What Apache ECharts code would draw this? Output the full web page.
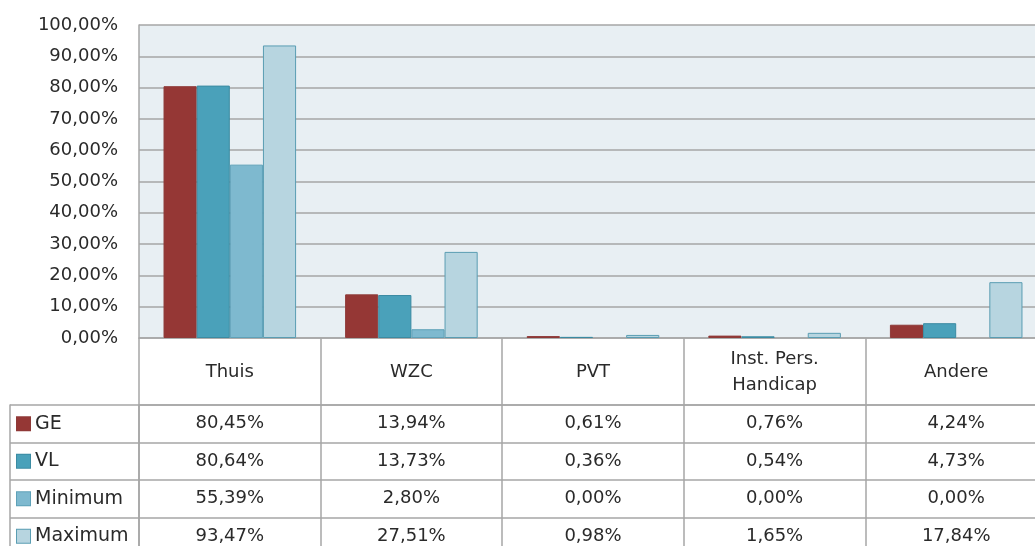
<!DOCTYPE html>
<html>
<head>
<meta charset="utf-8">
<script src="https://cdn.jsdelivr.net/npm/echarts@6/dist/echarts.min.js"></script>
<style>
  html, body { margin: 0; padding: 0; background: #fff; }
  #chart { width: 1035px; height: 546px; }
</style>
</head>
<body>
<div id="chart"></div>
<script>
// data
const categories = ["Thuis", "WZC", "PVT", "Inst. Pers.\nHandicap", "Andere"];
const seriesNames = ["GE", "VL", "Minimum", "Maximum"];
const ge = [80.45, 13.94, 0.61, 0.76, 4.24];
const vl = [80.64, 13.73, 0.36, 0.54, 4.73];
const minimum = [55.39, 2.80, 0.00, 0.00, 0.00];
const maximum = [93.47, 27.51, 0.98, 1.65, 17.84];
const yTicks = [0, 10, 20, 30, 40, 50, 60, 70, 80, 90, 100];

const seriesValues = [ge, vl, minimum, maximum];
const fills = ["#953735", "#4AA1BA", "#7EB9CF", "#B7D5E0"];
const borders = ["#8E3A38", "#3B8BA2", "#5EA1B8", "#5A9DB2"];
const textColor = "#2a2a2a";
const lineColor = "#A6A6A6";
const font = "'DejaVu Sans', sans-serif";

const pct = (v) => v.toFixed(2).replace(".", ",") + "%";

const chart = echarts.init(document.getElementById("chart"));

// bars for the upper plot; zero values get no outline (Excel draws nothing)
const barSeries = seriesNames.map((name, i) => ({
  name: name,
  type: "bar",
  xAxisIndex: 0,
  yAxisIndex: 0,
  data: seriesValues[i].map((v) => v === 0 ? { value: v, itemStyle: { borderWidth: 0 } } : v),
  barGap: "0%",
  barCategoryGap: "27%",
  itemStyle: { color: fills[i], borderColor: borders[i], borderWidth: 1 },
  silent: true,
}));

// data table cells
const tableSeries = seriesNames.map((name, i) => ({
  name: name + "-table",
  type: "scatter",
  xAxisIndex: 1,
  yAxisIndex: 1,
  symbolSize: 1,
  itemStyle: { color: "transparent", opacity: 1 },
  data: categories.map((c, j) => [j, i, seriesValues[i][j]]),
  label: {
    show: true,
    position: "inside",
    color: textColor,
    fontSize: 18,
    fontFamily: font,
    formatter: (p) => pct(p.value[2]),
  },
  silent: true,
}));

const rich = {};
seriesNames.forEach((n, i) => {
  rich["m" + i] = {
    width: 13, height: 13,
    backgroundColor: fills[i],
    borderColor: borders[i],
    borderWidth: 1,
  };
});
rich.t = { fontSize: 19, fontFamily: font, color: textColor, padding: [0, 0, 0, 5] };

chart.setOption({
  animation: false,
  backgroundColor: "#ffffff",
  grid: [
    { left: 139, width: 908, top: 25, bottom: 208, outerBoundsMode: "none",
      show: true, backgroundColor: "#E8EFF3", borderWidth: 0 },
    { left: 139, width: 908, top: 405, height: 150, outerBoundsMode: "none" },
  ],
  xAxis: [
    {
      type: "category",
      gridIndex: 0,
      data: categories,
      axisLine: { show: true, lineStyle: { color: lineColor, width: 1.5 } },
      axisTick: { show: true, length: 67, lineStyle: { color: lineColor, width: 1.5 } },
      axisLabel: {
        color: textColor, fontSize: 18, fontFamily: font,
        margin: 34, verticalAlign: "middle", lineHeight: 26, interval: 0,
      },
    },
    {
      type: "category",
      gridIndex: 1,
      data: categories.map((c, j) => j),
      position: "top",
      axisLine: { show: true, lineStyle: { color: lineColor, width: 1.5 } },
      axisTick: { show: false },
      axisLabel: { show: false },
      splitLine: { show: true, interval: 0, lineStyle: { color: lineColor, width: 1.5 } },
    },
  ],
  yAxis: [
    {
      type: "value",
      gridIndex: 0,
      min: 0,
      max: 100,
      interval: 10,
      axisLine: { show: true, lineStyle: { color: lineColor, width: 1.5 } },
      axisTick: { show: false },
      axisLabel: {
        color: textColor, fontSize: 18, fontFamily: font, margin: 21,
        formatter: (v) => pct(v),
      },
      splitLine: { show: true, lineStyle: { color: lineColor, width: 1.5 } },
    },
    {
      type: "category",
      gridIndex: 1,
      inverse: true,
      data: seriesNames.map((n, i) => i),
      axisLine: { show: true, lineStyle: { color: lineColor, width: 1.5 } },
      axisTick: { show: true, length: 129, lineStyle: { color: lineColor, width: 1.5 } },
      axisLabel: {
        align: "left",
        margin: 122,
        formatter: (v) => "{m" + v + "|}{t|" + seriesNames[v] + "}",
        rich: rich,
      },
      splitLine: { show: true, interval: 0, lineStyle: { color: lineColor, width: 1.5 } },
    },
    {
      type: "category",
      gridIndex: 1,
      position: "left",
      offset: 129,
      data: seriesNames.map((n, i) => i),
      axisLine: { show: true, lineStyle: { color: lineColor, width: 1.5 } },
      axisTick: { show: false },
      axisLabel: { show: false },
    },
  ],
  series: barSeries.concat(tableSeries),
});
</script>
</body>
</html>
